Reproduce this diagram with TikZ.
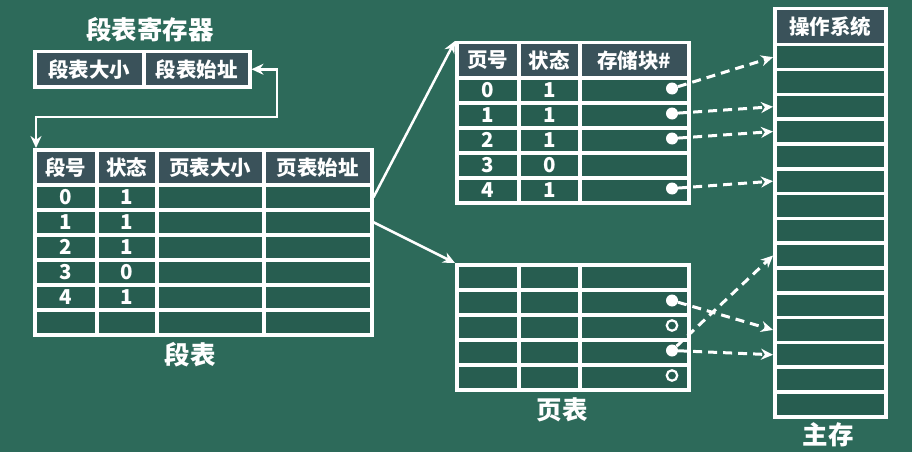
\documentclass[tikz,border=0pt]{standalone}
\usepackage{fontspec}
\setmainfont{Noto Sans CJK SC}
\usetikzlibrary{positioning, arrows.meta}

\definecolor{board}{HTML}{2D6A5A}
\definecolor{cellfill}{HTML}{275D50}
\definecolor{headfill}{HTML}{3A525A}

\begin{document}
\begin{tikzpicture}[
    x=1pt, y=-1pt,
    >={Stealth[length=12pt, width=11pt]},
    font=\bfseries\fontsize{20.5}{22}\selectfont,
    every node/.style={text=white, inner sep=0pt},
    cell/.style={
        draw=white,
        line width=3.5pt,
        fill=cellfill,
        minimum height=25pt,
        anchor=north west
    },
    headcell/.style={cell, fill=headfill, minimum height=35pt},
    caption/.style={font=\bfseries\fontsize{25.5}{27}\selectfont},
    fulldot/.style={circle, fill=white, minimum size=12pt},
    emptydot/.style={circle, draw=white, line width=2.2pt, fill=cellfill, minimum size=10.5pt},
    link/.style={->, draw=white, line width=2.5pt},
    dashlink/.style={link, line width=3pt, dash pattern=on 9pt off 6pt}
]

\fill[board] (0,0) rectangle (912,452);
\useasboundingbox (0,0) rectangle (912,452);

% segment table register
\node[caption] (regtitle) at (150,30) {段表寄存器};
\node[headcell, minimum width=109pt] (reg-1) at (33,50) {段表大小};
\node[headcell, minimum width=106pt] (reg-2) at (142,50) {段表始址};

% segment table
\foreach \x/\w/\t [count=\c] in {33/62/段号, 95/60/状态, 155/107/页表大小, 262/108/页表始址}
    \node[headcell, minimum width=\w pt] (seg-h\c) at (\x,148) {\t};
\foreach \r in {0,...,5}
    \foreach \x/\w [count=\c] in {33/62, 95/60, 155/107, 262/108}
        \node[cell, minimum width=\w pt] (seg-\r-\c) at (\x,183+25*\r) {};
\foreach \s/\v [count=\r from 0] in {0/1, 1/1, 2/1, 3/0, 4/1} {
    \node (seg-\r-no) at (seg-\r-1) {\s};
    \node (seg-\r-st) at (seg-\r-2) {\v};
}
\node[caption] (segcap) at (190,355) {段表};

% page table of segment 0
\foreach \x/\w/\t [count=\c] in {455/62/页号, 517/61/状态, 578/109/存储块\#}
    \node[headcell, minimum width=\w pt] (pt1-h\c) at (\x,41) {\t};
\foreach \r in {0,...,4}
    \foreach \x/\w [count=\c] in {455/62, 517/61, 578/109}
        \node[cell, minimum width=\w pt] (pt1-\r-\c) at (\x,76+25*\r) {};
\foreach \s/\v [count=\r from 0] in {0/1, 1/1, 2/1, 3/0, 4/1} {
    \node (pt1-\r-no) at (pt1-\r-1) {\s};
    \node (pt1-\r-st) at (pt1-\r-2) {\v};
}
\foreach \r in {0,1,2,4}
    \node[fulldot] (pt1-d\r) at (672,88.5+25*\r) {};

% page table of segment 1
\foreach \r in {0,...,4}
    \foreach \x/\w [count=\c] in {455/62, 517/61, 578/109}
        \node[cell, minimum width=\w pt] (pt2-\r-\c) at (\x,263+25*\r) {};
\node[fulldot] (pt2-d1) at (672,300.5) {};
\node[emptydot] (pt2-d2) at (672,325.5) {};
\node[fulldot] (pt2-d3) at (672,350.5) {};
\node[emptydot] (pt2-d4) at (672,375.5) {};
\node[caption] (ptcap) at (562,410) {页表};

% main memory
\node[headcell, minimum width=111pt, minimum height=36pt] (mem-0) at (773,7) {操作系统};
\foreach \k in {1,...,15}
    \node[cell, minimum width=111pt, minimum height=24.8pt] (mem-\k) at (773,43+24.8*\k-24.8) {};
\node[caption] (memcap) at (828,435) {主存};

% links
\coordinate (regbend) at (277,117);
\draw[link, <->] (reg-2.east) -| (regbend) -| ([xshift=3pt]seg-h1.north west);
\draw[link] (seg-0-4.east) -- (pt1-h1.north west);
\draw[link] (seg-1-4.east) -- (pt2-0-1.north west);

\draw[dashlink] (pt1-d0) -- (mem-1.west);
\draw[dashlink] (pt1-d1) -- (mem-3.west);
\draw[dashlink] (pt1-d2) -- (mem-4.west);
\draw[dashlink] (pt1-d4) -- (mem-6.west);
\draw[dashlink] (pt2-d1) -- (mem-12.west);
\draw[dashlink] (pt2-d3) -- (mem-13.west);
\draw[dashlink] (pt2-d3) -- (mem-9.west);

\end{tikzpicture}
\end{document}
